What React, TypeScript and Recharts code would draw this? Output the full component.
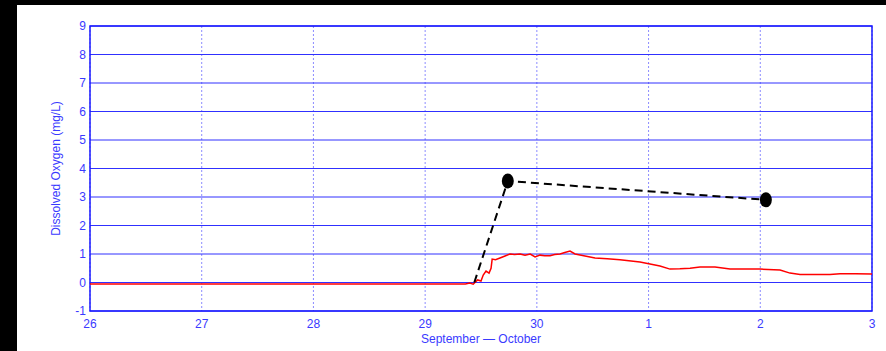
import {
  ComposedChart, Line, Scatter, XAxis, YAxis, CartesianGrid, ReferenceArea,
} from 'recharts'

// x values are days since Sept 26 00:00
const dayTicks = [0, 1, 2, 3, 4, 5, 6, 7]
const dayLabels = ['26', '27', '28', '29', '30', '1', '2', '3']
const doTicks = [-1, 0, 1, 2, 3, 4, 5, 6, 7, 8, 9]

// continuous sonde record (red)
const sondeTime = [
  0, 0.5, 1, 1.5, 2, 2.5, 3, 3.2, 3.36, 3.40, 3.43, 3.47, 3.50, 3.52, 3.545, 3.572,
  3.59, 3.60, 3.63, 3.67, 3.715, 3.76, 3.80, 3.85, 3.894, 3.94, 3.984, 4.028, 4.07,
  4.118, 4.16, 4.207, 4.25, 4.297, 4.342, 4.431, 4.521, 4.63, 4.744, 4.923, 5.013,
  5.102, 5.192, 5.28, 5.371, 5.46, 5.595, 5.729, 5.85, 5.998, 6.177, 6.266, 6.356,
  6.5, 6.624, 6.714, 6.85, 7,
]
const sondeDO = [
  -0.05, -0.05, -0.05, -0.05, -0.05, -0.05, -0.05, -0.05, -0.05, -0.02, -0.06, 0.09,
  0.05, 0.26, 0.4, 0.33, 0.5, 0.82, 0.8, 0.86, 0.93, 1.0, 0.98, 1.0, 0.96, 1.0, 0.9,
  0.96, 0.94, 0.94, 0.98, 1.0, 1.05, 1.1, 1.0, 0.93, 0.86, 0.83, 0.8, 0.72, 0.65,
  0.58, 0.47, 0.48, 0.5, 0.54, 0.54, 0.47, 0.47, 0.47, 0.44, 0.33, 0.28, 0.28, 0.28,
  0.31, 0.31, 0.3,
]

// discrete grab samples (black)
const sampleTime = [3.74, 6.05]
const sampleDO = [3.56, 2.9]
const dashStartTime = 3.44
const dashStartDO = 0

const sondeData = sondeTime.map((t, i) => ({ t, v: sondeDO[i] }))
const sampleData = sampleTime.map((t, i) => ({ t, v: sampleDO[i] }))
const dashData = [{ t: dashStartTime, v: dashStartDO }, ...sampleData]

const BLUE = '#3a3aff'
const FONT = 'Liberation Sans, Arial, sans-serif'

function Ellipse(props: any) {
  const { cx, cy } = props
  return <ellipse cx={cx} cy={cy} rx={6} ry={7.5} fill="#000" />
}

export default function App() {
  return (
    <div style={{ position: 'absolute', left: 0, top: 0, width: 886, height: 351, background: '#000' }}>
      <div style={{ position: 'absolute', left: 17, top: 5, width: 869, height: 346, background: '#fff' }} />
      <div style={{ position: 'absolute', left: 0, top: 0 }}>
        <ComposedChart width={886} height={351} margin={{ top: 26, right: 14, bottom: 10, left: 50 }}>
          <CartesianGrid horizontal={false} stroke="#8c8cff" strokeDasharray="2 2" />
          <CartesianGrid vertical={false} stroke="#3030ff" />
          <XAxis
            dataKey="t" type="number" domain={[0, 7]} ticks={dayTicks}
            tickFormatter={(v: number) => dayLabels[dayTicks.indexOf(v)]}
            axisLine={false} tickLine={false} tickSize={6} tickMargin={2} height={30}
            tick={{ fill: BLUE, fontSize: 12, fontFamily: FONT }}
            label={{ value: 'September \u2014 October', position: 'insideBottom', offset: -2, fill: BLUE, fontSize: 12, fontFamily: FONT }}
          />
          <YAxis
            dataKey="v" type="number" domain={[-1, 9]} ticks={doTicks} interval={0}
            axisLine={false} tickLine={false} tickSize={4} tickMargin={0} width={40}
            tick={{ fill: BLUE, fontSize: 12, fontFamily: FONT }}
            label={{ value: 'Dissolved Oxygen (mg/L)', angle: -90, position: 'insideLeft', offset: 6, fill: BLUE, fontSize: 12, fontFamily: FONT, style: { textAnchor: 'middle' } }}
          />
          <ReferenceArea x1={0} x2={7} y1={-1} y2={9} fill="none" stroke="#1a1aff" strokeWidth={1.5} />
          <Line data={sondeData} dataKey="v" type="linear" stroke="#ff0000" strokeWidth={1.5} dot={false} isAnimationActive={false} />
          <Line data={dashData} dataKey="v" type="linear" stroke="#000" strokeWidth={2} strokeDasharray="8 5" dot={false} isAnimationActive={false} />
          <Scatter data={sampleData} dataKey="v" shape={<Ellipse />} isAnimationActive={false} />
        </ComposedChart>
      </div>
    </div>
  )
}
